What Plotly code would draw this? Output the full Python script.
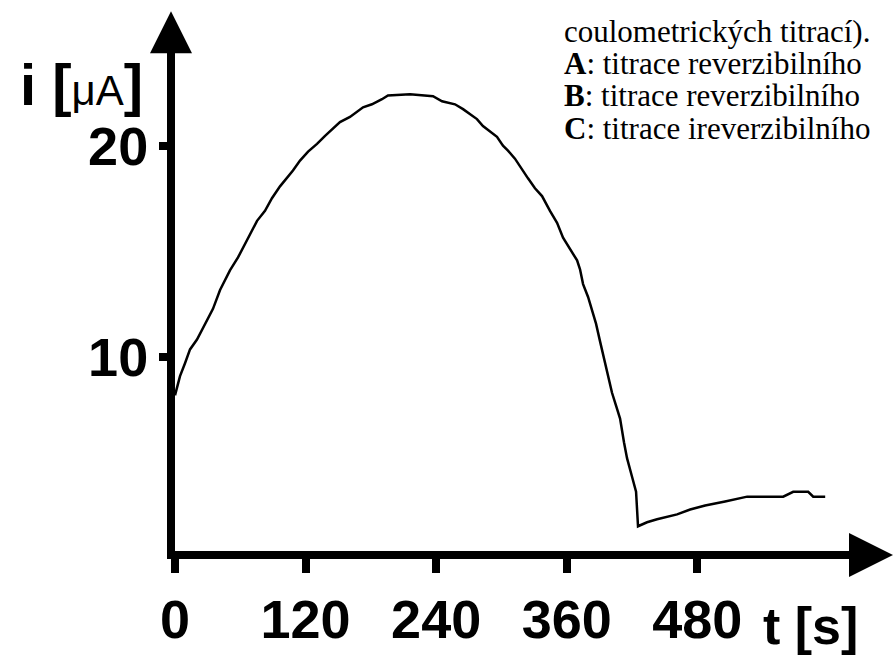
import plotly.graph_objects as go

# ---- data ----
time_s = [0, 4.6, 9.2, 13.8, 20.2, 29.4, 34.9, 41.4, 50.5, 57.9, 68.9, 75.4, 82.7, 89.1,
          96.5, 108.4, 114.9, 122.3, 130.5, 137.9, 151.6, 160.8, 172.8, 181.0, 190.2, 195.7,
          216.0, 237.1, 245.4, 257.3, 264.7, 271.1, 277.5, 283.0, 289.5, 295.9, 301.4, 306.0,
          312.4, 317.0, 324.4, 330.8, 337.3, 344.6, 351.1, 356.6, 361.2, 364.9, 369.5, 372.2,
          375.0, 379.6, 383.3, 386.9, 390.6, 394.3, 398.0, 401.6, 405.3, 409.0, 412.6, 415.4,
          420.0, 423.7, 425.5, 433.8, 443.0, 461.4, 473.4, 487.2, 505.5, 525.8, 558.9, 568.1,
          581.9, 586.5, 597.5]
current_uA = [8.2, 9.11, 9.72, 10.37, 10.84, 11.78, 12.29, 13.18, 14.11, 14.72, 15.79, 16.45,
              16.92, 17.52, 18.08, 18.83, 19.30, 19.72, 20.09, 20.47, 21.12, 21.36, 21.82, 21.96,
              22.20, 22.38, 22.43, 22.34, 22.10, 21.96, 21.73, 21.50, 21.26, 20.93, 20.65, 20.42,
              20.00, 19.77, 19.39, 19.02, 18.46, 17.99, 17.62, 16.92, 16.36, 15.65, 15.28, 14.95,
              14.58, 14.16, 13.46, 12.85, 12.15, 11.59, 10.75, 9.91, 9.02, 8.32, 7.71, 7.10,
              5.98, 5.23, 4.35, 3.64, 2.01, 2.20, 2.34, 2.57, 2.80, 2.99, 3.18, 3.41, 3.41, 3.64,
              3.64, 3.41, 3.41]
x_ticks = [0, 120, 240, 360, 480]
x_tick_labels = ["0", "120", "240", "360", "480"]
y_ticks = [10, 20]
y_tick_labels = ["10", "20"]
x_range = [0, 620.3]
y_range = [0.84, 25.0]
text_lines = ["coulometrických titrací).",
              "<b>A</b>: titrace reverzibilního",
              "<b>B</b>: titrace reverzibilního",
              "<b>C</b>: titrace ireverzibilního"]
text_baselines_px = [42, 74, 107, 140]

# ---- layout geometry (pixels) ----
W, H = 895, 661
L, R, T, B = 175, 850, 40, 557


def px(xp):
    return (xp - L) / (R - L)


def py(yp):
    return (B - yp) / (B - T)


SANS = "Liberation Sans, Arial, sans-serif"
SERIF = "Liberation Serif, Times New Roman, serif"

fig = go.Figure()
fig.add_trace(go.Scatter(x=time_s, y=current_uA, mode="lines",
                         line=dict(color="black", width=2.5), hoverinfo="skip",
                         showlegend=False))

fig.update_layout(
    width=W, height=H,
    margin=dict(l=L, r=W - R, t=T, b=H - B, pad=0),
    paper_bgcolor="white", plot_bgcolor="white",
    xaxis=dict(range=x_range, showgrid=False, zeroline=False, showline=True,
               linecolor="black", linewidth=8, ticks="outside", ticklen=14,
               tickwidth=8, tickcolor="black", tickvals=x_ticks, ticktext=x_tick_labels,
               tickfont=dict(family=SANS, size=54, color="black", weight="bold")),
    yaxis=dict(range=y_range, showgrid=False, zeroline=False, showline=True,
               linecolor="black", linewidth=8, ticks="outside", ticklen=8,
               tickwidth=8, tickcolor="black", tickvals=y_ticks, ticktext=y_tick_labels,
               tickfont=dict(family=SANS, size=54, color="black", weight="bold")),
)

annotations = [
    # y-axis arrow head
    dict(xref="paper", yref="paper", x=px(171), y=py(11), ax=0, ay=45, text="",
         showarrow=True, arrowhead=2, arrowsize=1.05, arrowwidth=8, arrowcolor="black",
         standoff=0),
    # x-axis arrow head
    dict(xref="paper", yref="paper", x=px(893), y=py(561), ax=-45, ay=0, text="",
         showarrow=True, arrowhead=2, arrowsize=1.1, arrowwidth=8, arrowcolor="black",
         standoff=0),
    # axis titles
    dict(xref="paper", yref="paper", x=px(81), y=py(85), xanchor="center", yanchor="middle",
         showarrow=False,
         text="i [<span style='font-size:42px;font-weight:normal'>μA</span>]",
         font=dict(family=SANS, size=58, color="black", weight="bold")),
    dict(xref="paper", yref="paper", x=px(810), y=py(633), xanchor="center", yanchor="middle",
         showarrow=False, text="t [s]",
         font=dict(family=SANS, size=52, color="black", weight="bold")),
]
for line, base in zip(text_lines, text_baselines_px):
    annotations.append(dict(xref="paper", yref="paper", x=px(563), y=py(base + 8),
                            xanchor="left", yanchor="bottom", align="left",
                            showarrow=False, text=line, borderpad=0,
                            font=dict(family=SERIF, size=31, color="black")))
fig.update_layout(annotations=annotations)

fig.write_html("out.html", config={"displayModeBar": False},
               post_script="document.body.style.margin='0px';"
                           "document.body.style.overflow='hidden';")
